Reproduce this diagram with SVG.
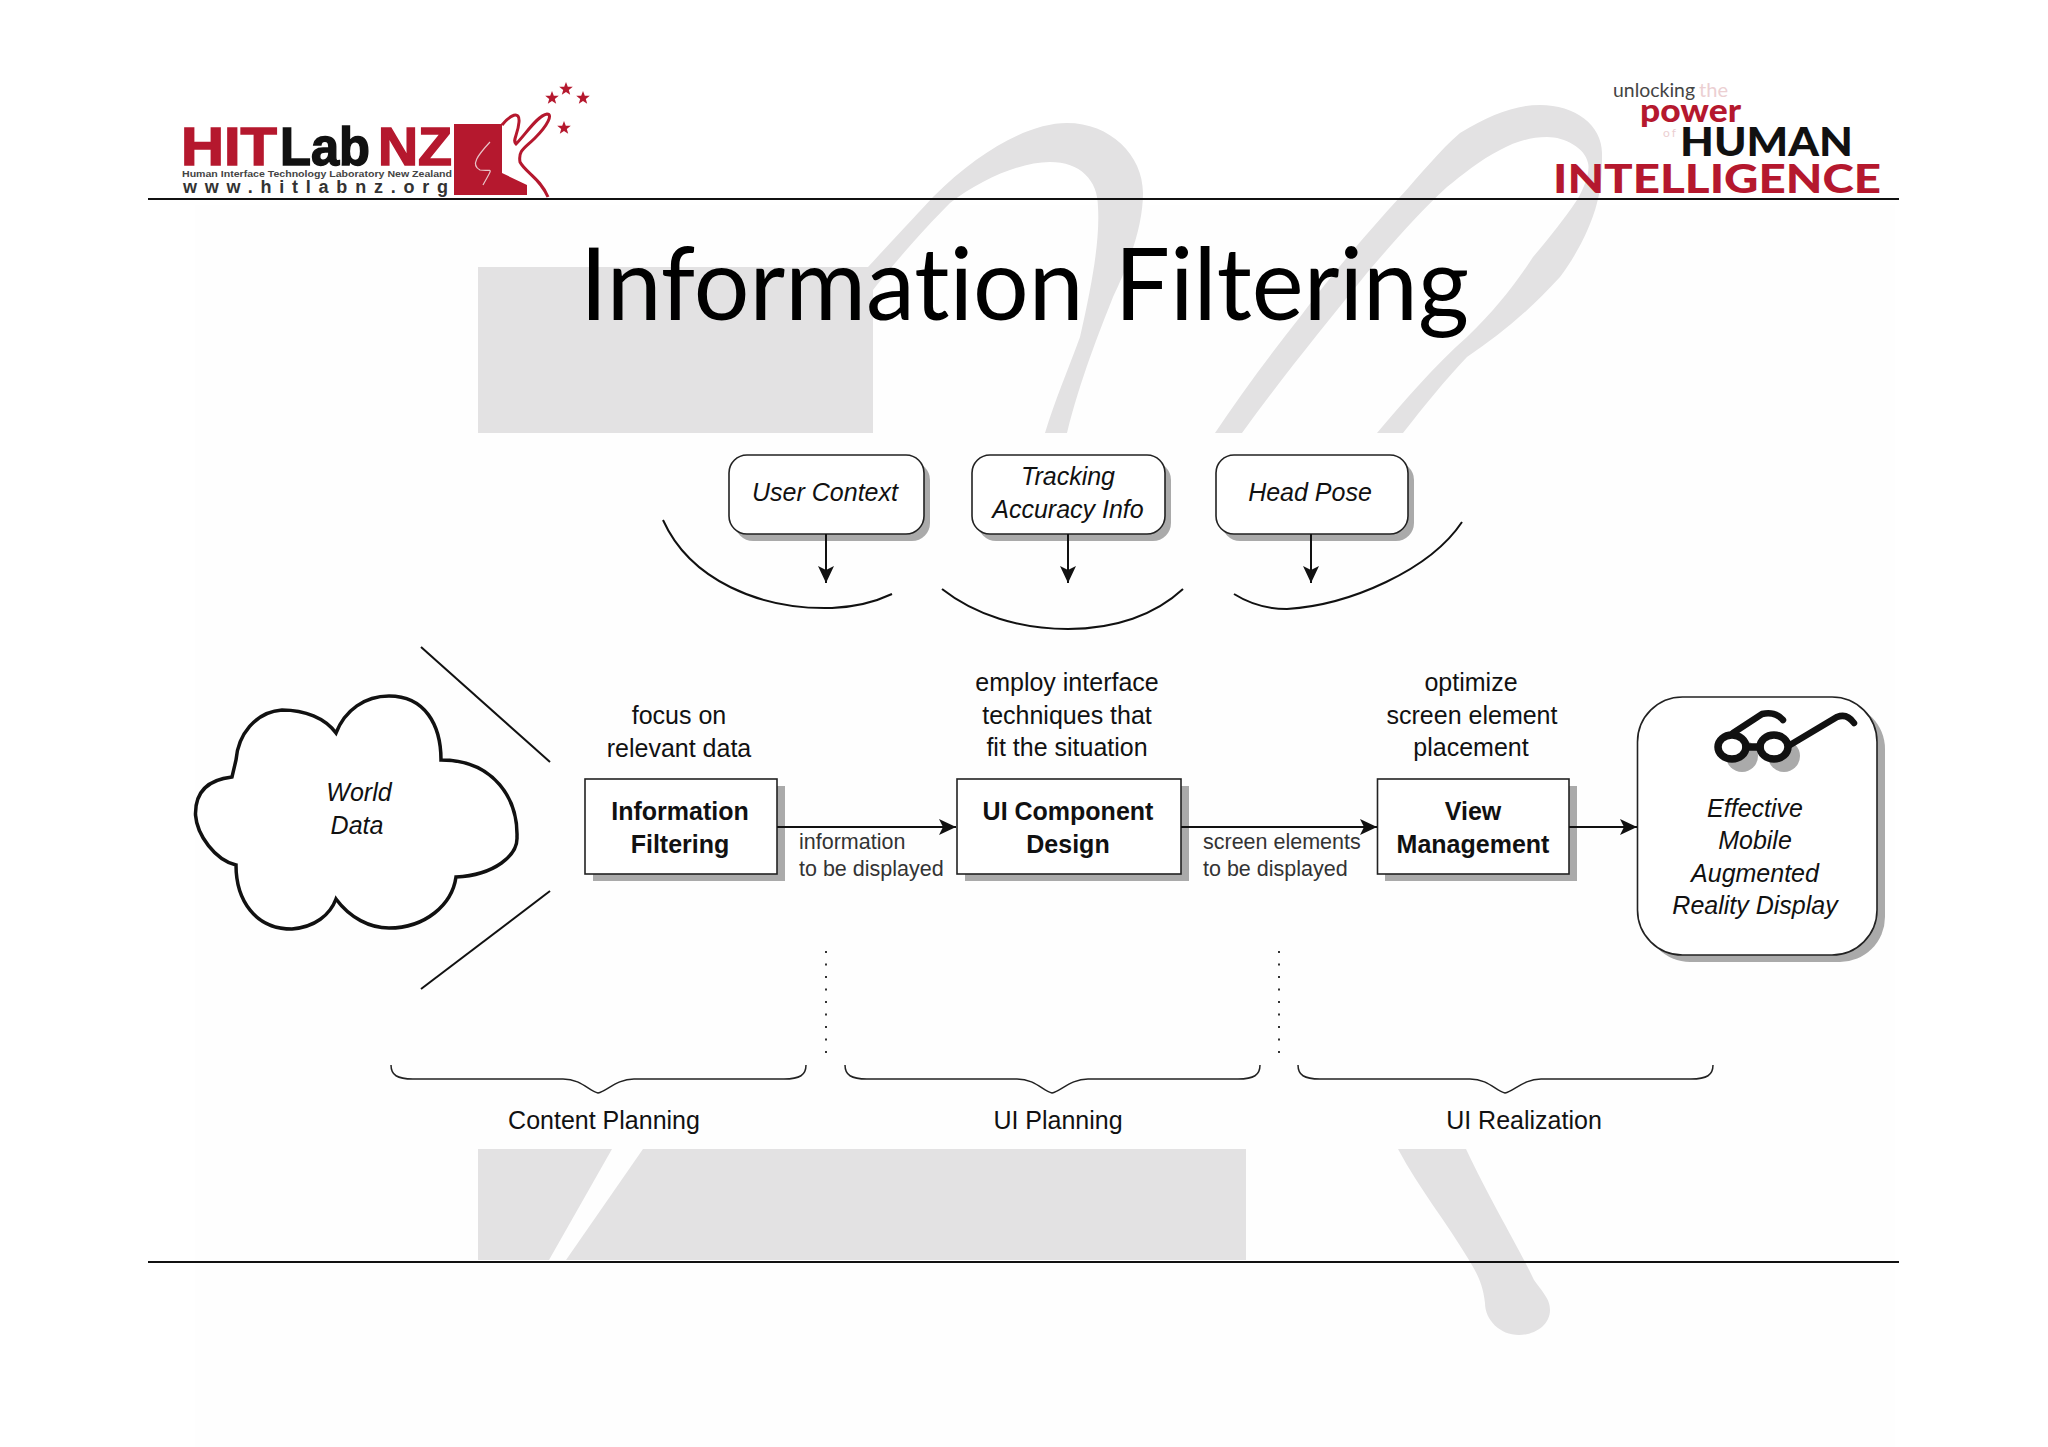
<svg xmlns="http://www.w3.org/2000/svg" xmlns:xlink="http://www.w3.org/1999/xlink" width="2048" height="1447" viewBox="0 0 2048 1447">
<defs>
<style>
text{font-family:"Liberation Sans",Arial,sans-serif;fill:#111}
.c{text-anchor:middle;font-size:25px}
.i{font-style:italic}
.b{font-weight:bold}
.l{font-size:21.5px;fill:#333}
.box{fill:#fff;stroke:#222;stroke-width:1.600}
.sh{fill:#aaa;stroke:none}
.ln{fill:none;stroke:#111;stroke-width:2}
.bg{fill:#e3e2e3}
.red{fill:#b5182e}
.dot{fill:none;stroke:#333;stroke-width:2;stroke-dasharray:2 10.5}
.br{fill:none;stroke:#222;stroke-width:1.500}
.lg{font-family:Lato,sans-serif}
.hv{font-family:Lato,sans-serif;font-weight:900}
</style>
<marker id="ah" markerUnits="userSpaceOnUse" markerWidth="17" markerHeight="16" refX="17" refY="8" orient="auto"><path d="M0 0L17 8L0 16L4 8Z" fill="#111"/></marker>
<path id="star" d="M0-7L1.800-2.200L6.800-2.200L2.800 0.900L4.200 5.700L0 2.900L-4.200 5.700L-2.800 0.900L-6.800-2.200L-1.800-2.200Z"/>
<path id="brace" d="M0 0C0 10 6 14 22 14L172 14C190 14 198 26 207 28C216 26 226 14 243 14L393 14C409 14 415 10 415 0"/>
</defs>
<rect width="2048" height="1447" fill="#fff"/>
<g id="background">
<rect x="195" y="205" width="1700" height="1242" fill="#fefefe"/>
<rect class="bg" x="478" y="267" width="395" height="166"/>
<path class="bg" d="M1067 433C1080 380 1100 330 1113 297C1130 262 1143 225 1143 193C1143 155 1110 123 1067 123C1030 123 980 150 933 197C910 222 890 243 868 267L873 290C895 262 925 228 950 203C980 180 1020 162 1050 162C1080 162 1098 180 1098 207C1100 240 1092 285 1080 337C1068 370 1055 400 1045 433Z"/>
<path class="bg" d="M1215 433C1240 395 1270 355 1300 317C1335 270 1370 230 1400 197C1420 175 1440 150 1460 133C1490 115 1515 105 1540 105C1575 105 1602 125 1602 153C1602 170 1602 185 1597 203C1590 230 1575 257 1560 277C1530 310 1500 335 1467 357C1445 380 1425 405 1403 433L1377 433C1405 400 1435 365 1467 337C1495 310 1515 285 1533 257C1550 237 1565 218 1577 200C1586 185 1590 170 1588 163C1585 148 1565 137 1547 137C1530 137 1515 142 1500 150C1480 160 1462 175 1447 187C1420 212 1395 240 1367 273C1325 325 1280 380 1242 433Z"/>
<path class="bg" fill-rule="evenodd" d="M478 1149H1246V1260H478ZM612 1149L549 1260H566L643 1149Z"/>
<path class="bg" d="M1398 1149H1466C1490 1200 1520 1250 1534 1280C1545 1295 1550 1300 1550 1310C1550 1325 1535 1335 1519 1335C1500 1335 1485 1320 1485 1303C1483 1285 1478 1275 1469 1260C1445 1220 1420 1190 1398 1149Z"/>
<rect x="148" y="198" width="1751" height="2" fill="#111"/>
<rect x="148" y="1261" width="1751" height="2" fill="#111"/>
</g>
<g id="logo-left">
<text x="181" y="165" font-size="54" class="b" textLength="96" lengthAdjust="spacingAndGlyphs" style="fill:#b5182e;stroke:#b5182e;stroke-width:1.500">HIT</text>
<text x="280" y="165" font-size="54" class="b" textLength="90" lengthAdjust="spacingAndGlyphs" style="stroke:#111;stroke-width:1.500">Lab</text>
<text x="378" y="165" font-size="54" class="b" textLength="74" lengthAdjust="spacingAndGlyphs" style="fill:#b5182e;stroke:#b5182e;stroke-width:1.500">NZ</text>
<text x="182" y="177" font-size="9.500" class="b" textLength="270" lengthAdjust="spacingAndGlyphs" style="fill:#444">Human Interface Technology Laboratory New Zealand</text>
<text x="183" y="193" font-size="18" class="b" textLength="265" lengthAdjust="spacing" style="fill:#333">www.hitlabnz.org</text>
<path class="red" d="M454 124H502V173L527 185V195H454Z"/>
<path d="M502 125C510 115 520 110 519 122C518 135 512 140 516 144C525 135 538 115 547 114C553 114 548 125 535 138C525 148 518 150 520 162C525 172 540 178 548 197" fill="none" stroke="#b5182e" stroke-width="3"/>
<path d="M490 142C478 155 470 165 480 170C492 172 494 165 483 185" fill="none" stroke="#e8c4c8" stroke-width="1.200"/>
<g class="red"><use xlink:href="#star" href="#star" x="552" y="98"/><use xlink:href="#star" href="#star" x="566" y="89"/><use xlink:href="#star" href="#star" x="583" y="98"/><use xlink:href="#star" href="#star" x="564" y="128"/></g>
</g>
<g id="logo-right">
<text class="lg" x="1613" y="97" font-size="20" textLength="82" lengthAdjust="spacingAndGlyphs" style="fill:#444">unlocking</text>
<text class="lg" x="1699" y="97" font-size="20" textLength="29" lengthAdjust="spacingAndGlyphs" style="fill:#eccfd2">the</text>
<text class="hv" x="1640" y="122" font-size="32" textLength="101" lengthAdjust="spacingAndGlyphs" style="fill:#b5182e">power</text>
<text class="lg" x="1663" y="137" font-size="12" textLength="13" style="fill:#eccfd2">of</text>
<text class="hv" x="1680" y="156" font-size="40" textLength="173" lengthAdjust="spacingAndGlyphs" style="fill:#111">HUMAN</text>
<text class="hv" x="1553" y="193" font-size="40" textLength="328" lengthAdjust="spacingAndGlyphs" style="fill:#b5182e">INTELLIGENCE</text>
</g>
<text id="title" x="580" y="320" font-size="101" textLength="889" lengthAdjust="spacingAndGlyphs" style="font-family:Lato,sans-serif;fill:#000;font-variant-ligatures:none;word-spacing:6px">Information Filtering</text>
<g id="funnel" class="ln">
<path d="M663 520C690 580 760 610 832 608C855 607 875 602 892 594"/>
<path d="M942 589C975 615 1020 629 1068 629C1115 629 1155 615 1183 589"/>
<path d="M1234 594C1250 604 1270 609 1287 609C1350 605 1430 570 1462 522"/>
<path d="M421 647L550 762"/>
<path d="M550 891L421 989"/>
</g>
<g id="node-user-context"><rect class="sh" x="735" y="462" width="195" height="79" rx="18"/><rect class="box" x="729" y="455" width="195" height="79" rx="18"/><text class="c i" x="825" y="501">User Context</text></g>
<g id="node-tracking"><rect class="sh" x="978" y="462" width="193" height="79" rx="18"/><rect class="box" x="972" y="455" width="193" height="79" rx="18"/><text class="c i" x="1068" y="485">Tracking</text><text class="c i" x="1068" y="518">Accuracy Info</text></g>
<g id="node-head-pose"><rect class="sh" x="1222" y="462" width="192" height="79" rx="18"/><rect class="box" x="1216" y="455" width="192" height="79" rx="18"/><text class="c i" x="1310" y="501">Head Pose</text></g>
<g id="node-world-data">
<path d="M336 733C325 718 305 710 282 710C255 712 238 735 236 760L232 777C205 780 195 795 195.500 815C197 835 215 860 236 865C236 900 255 929 292 929C315 927 330 915 336 899C350 918 370 928 389 928C425 928 452 905 456 877C495 875 518 855 517 837C518 800 495 760 441 760C441 725 425 696 389 696C365 696 345 710 336 733Z" fill="#fff" stroke="#111" stroke-width="3.500"/>
<text class="c i" x="359" y="801">World</text><text class="c i" x="357" y="834">Data</text>
</g>
<g id="node-information-filtering"><rect class="sh" x="593" y="786" width="192" height="95"/><rect class="box" x="585" y="779" width="192" height="95"/><text class="c b" x="680" y="820">Information</text><text class="c b" x="680" y="853">Filtering</text></g>
<g id="node-ui-component"><rect class="sh" x="965" y="786" width="224" height="95"/><rect class="box" x="957" y="779" width="224" height="95"/><text class="c b" x="1068" y="820">UI Component</text><text class="c b" x="1068" y="853">Design</text></g>
<g id="node-view-management"><rect class="sh" x="1385" y="786" width="192" height="95"/><rect class="box" x="1377.500" y="779" width="191.500" height="95"/><text class="c b" x="1473" y="820">View</text><text class="c b" x="1473" y="853">Management</text></g>
<g id="node-display">
<rect class="sh" x="1645" y="704" width="240" height="258" rx="45"/><rect class="box" x="1637.500" y="697" width="239.500" height="258" rx="45"/>
<circle class="sh" cx="1742" cy="756" r="16"/><circle class="sh" cx="1784" cy="756" r="16"/>
<g fill="#fff" stroke="#111" stroke-width="7.500" stroke-linecap="round"><ellipse cx="1732" cy="747" rx="14" ry="12"/><ellipse cx="1774" cy="747" rx="14" ry="12"/><path fill="none" d="M1746 747H1760"/><path fill="none" stroke-width="6.500" d="M1733 733L1762 714Q1775 711 1783 720M1790 745L1837 717Q1847 713 1854 723"/></g>
<text class="c i" x="1755" y="817">Effective</text><text class="c i" x="1755" y="849">Mobile</text><text class="c i" x="1755" y="882">Augmented</text><text class="c i" x="1755" y="914">Reality Display</text>
</g>
<g id="labels">
<text class="c" x="679" y="724">focus on</text><text class="c" x="679" y="757">relevant data</text>
<text class="c" x="1067" y="691">employ interface</text><text class="c" x="1067" y="724">techniques that</text><text class="c" x="1067" y="756">fit the situation</text>
<text class="c" x="1471" y="691">optimize</text><text class="c" x="1472" y="724">screen element</text><text class="c" x="1471" y="756">placement</text>
<text class="l" x="799" y="849">information</text><text class="l" x="799" y="876">to be displayed</text>
<text class="l" x="1203" y="849">screen elements</text><text class="l" x="1203" y="876">to be displayed</text>
<text class="c" x="604" y="1129">Content Planning</text><text class="c" x="1058" y="1129">UI Planning</text><text class="c" x="1524" y="1129">UI Realization</text>
</g>
<g id="connectors">
<path class="ln" d="M826 534V583" marker-end="url(#ah)"/>
<path class="ln" d="M1068 534V583" marker-end="url(#ah)"/>
<path class="ln" d="M1311 534V583" marker-end="url(#ah)"/>
<path class="ln" d="M777 827H956" marker-end="url(#ah)"/>
<path class="ln" d="M1181 827H1377" marker-end="url(#ah)"/>
<path class="ln" d="M1569 827H1637" marker-end="url(#ah)"/>
</g>
<g id="phases">
<path class="dot" d="M826 951V1054"/><path class="dot" d="M1279 951V1054"/>
<use xlink:href="#brace" href="#brace" x="391" y="1065" class="br"/>
<use xlink:href="#brace" href="#brace" x="845" y="1065" class="br"/>
<use xlink:href="#brace" href="#brace" x="1298" y="1065" class="br"/>
</g>
</svg>
